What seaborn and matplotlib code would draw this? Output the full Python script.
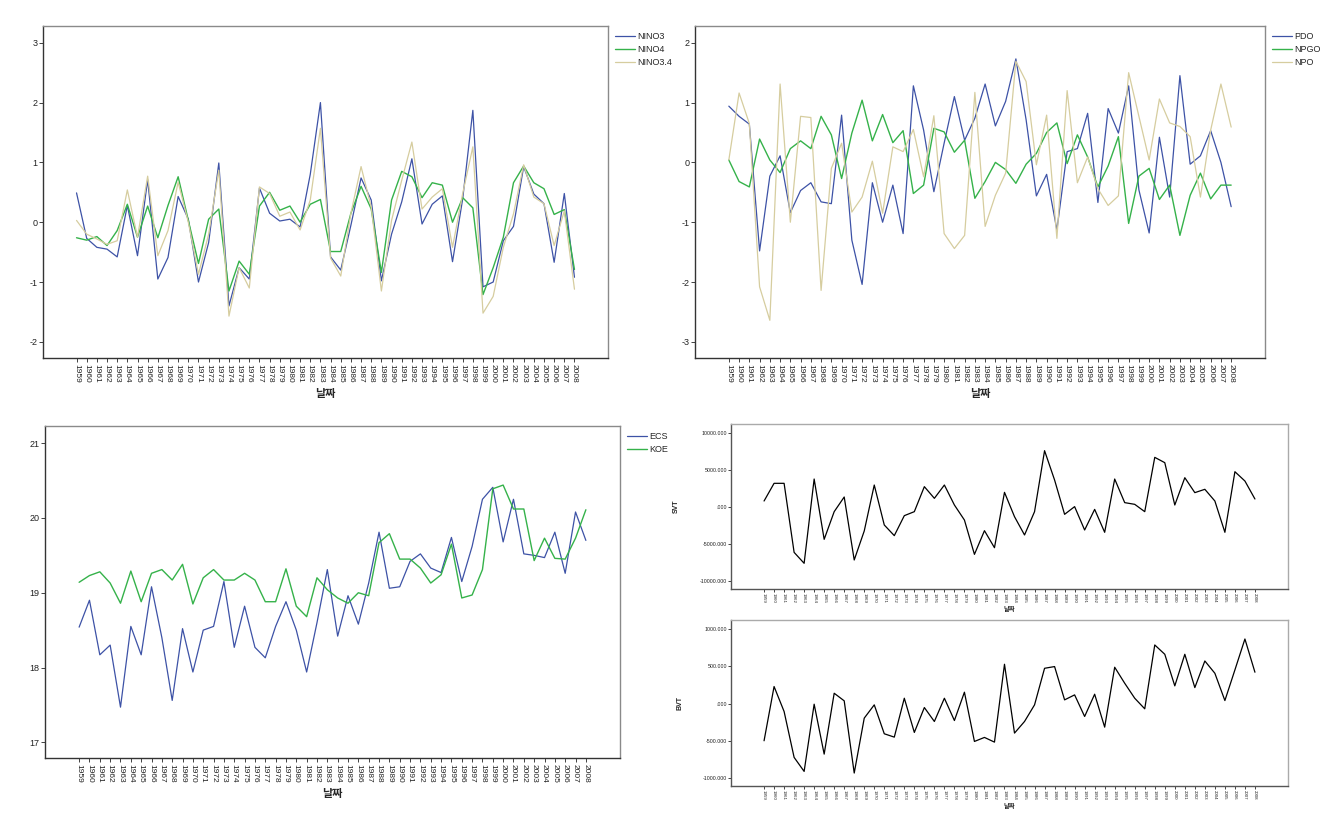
import numpy as np
import pandas as pd
import matplotlib
matplotlib.use("Agg")
import matplotlib.pyplot as plt
import seaborn as sns

sns.set_theme(style="white")
plt.rcParams['font.family'] = ['Liberation Sans', 'DejaVu Sans', 'Noto Sans CJK KR']

years = list(range(1959, 2009))
year_labels = [str(y) for y in years]

nino3 = [0.49, -0.27, -0.42, -0.45, -0.58, 0.28, -0.56, 0.71, -0.95, -0.59,
         0.43, 0.05, -1.0, -0.34, 0.99, -1.40, -0.76, -0.95, 0.57, 0.15,
         0.02, 0.05, -0.08, 0.8, 2.0, -0.58, -0.8, -0.05, 0.74, 0.37,
         -0.98, -0.2, 0.34, 1.06, -0.03, 0.3, 0.44, -0.66, 0.39, 1.87,
         -1.08, -1.0, -0.31, -0.07, 0.93, 0.47, 0.31, -0.67, 0.48, -0.92]
nino4 = [-0.26, -0.3, -0.24, -0.39, -0.14, 0.3, -0.25, 0.27, -0.26, 0.28,
         0.76, 0.03, -0.69, 0.05, 0.22, -1.15, -0.65, -0.87, 0.27, 0.5,
         0.2, 0.27, 0.0, 0.3, 0.38, -0.49, -0.49, 0.15, 0.6, 0.22,
         -0.84, 0.37, 0.85, 0.76, 0.41, 0.66, 0.62, 0.0, 0.41, 0.24,
         -1.21, -0.76, -0.25, 0.66, 0.94, 0.66, 0.56, 0.13, 0.21, -0.79]
nino34 = [0.03, -0.2, -0.28, -0.37, -0.31, 0.54, -0.25, 0.77, -0.56, -0.14,
          0.67, 0.0, -0.87, -0.2, 0.87, -1.57, -0.76, -1.1, 0.59, 0.48,
          0.1, 0.17, -0.13, 0.37, 1.57, -0.6, -0.9, 0.15, 0.93, 0.25,
          -1.15, 0.03, 0.7, 1.34, 0.22, 0.42, 0.56, -0.42, 0.48, 1.26,
          -1.52, -1.24, -0.42, 0.14, 0.96, 0.42, 0.31, -0.39, 0.19, -1.12]

pdo = [0.94, 0.77, 0.64, -1.48, -0.23, 0.11, -0.84, -0.47, -0.34, -0.66,
       -0.69, 0.79, -1.3, -2.04, -0.34, -1.0, -0.38, -1.19, 1.28, 0.54,
       -0.49, 0.32, 1.1, 0.37, 0.74, 1.31, 0.61, 1.02, 1.73, 0.71,
       -0.56, -0.2, -1.13, 0.18, 0.23, 0.82, -0.67, 0.9, 0.49, 1.28,
       -0.46, -1.18, 0.42, -0.58, 1.45, -0.03, 0.11, 0.53, 0.0, -0.74]
npgo = [0.04, -0.32, -0.41, 0.39, 0.04, -0.17, 0.23, 0.36, 0.23, 0.77,
        0.46, -0.27, 0.49, 1.04, 0.36, 0.8, 0.33, 0.53, -0.52, -0.38,
        0.57, 0.51, 0.17, 0.37, -0.6, -0.32, 0.0, -0.12, -0.35, -0.03,
        0.15, 0.5, 0.66, -0.02, 0.46, 0.09, -0.41, -0.06, 0.43, -1.02,
        -0.23, -0.1, -0.62, -0.38, -1.22, -0.55, -0.18, -0.61, -0.38, -0.38]
npo = [0.04, 1.16, 0.65, -2.08, -2.64, 1.31, -1.0, 0.77, 0.75, -2.14,
       -0.1, 0.32, -0.83, -0.58, 0.02, -0.85, 0.26, 0.18, 0.55, -0.24,
       0.78, -1.19, -1.44, -1.22, 1.17, -1.07, -0.55, -0.18, 1.69, 1.35,
       -0.04, 0.79, -1.27, 1.2, -0.34, 0.09, -0.44, -0.72, -0.56, 1.5,
       0.77, 0.04, 1.06, 0.66, 0.6, 0.43, -0.58, 0.54, 1.31, 0.59]

ecs = [18.54, 18.9, 18.17, 18.3, 17.47, 18.55, 18.17, 19.08, 18.4, 17.56,
       18.52, 17.94, 18.5, 18.55, 19.15, 18.27, 18.82, 18.27, 18.13, 18.55,
       18.88, 18.5, 17.94, 18.6, 19.31, 18.42, 18.96, 18.58, 19.13, 19.81,
       19.06, 19.08, 19.42, 19.52, 19.33, 19.27, 19.74, 19.15, 19.62, 20.25,
       20.41, 19.68, 20.25, 19.52, 19.5, 19.47, 19.81, 19.26, 20.08, 19.7]
koe = [19.14, 19.23, 19.28, 19.13, 18.86, 19.29, 18.88, 19.26, 19.31, 19.17,
       19.38, 18.85, 19.2, 19.31, 19.17, 19.17, 19.26, 19.17, 18.88, 18.88,
       19.32, 18.82, 18.68, 19.2, 19.04, 18.93, 18.86, 19.0, 18.96, 19.67,
       19.79, 19.45, 19.45, 19.33, 19.13, 19.24, 19.65, 18.93, 18.97, 19.31,
       20.39, 20.44, 20.12, 20.12, 19.43, 19.73, 19.46, 19.45, 19.73, 20.11]

svt = [810, 3200, 3200, -6130, -7610, 3780, -4370, -630, 1350, -7160,
       -3240, 2970, -2430, -3870, -1170, -630, 2750, 1170, 2970, 270,
       -1760, -6400, -3200, -5500, 1980, -1310, -3780, -630, 7610, 3650,
       -990, 50, -3110, -320, -3420, 3780, 590, 360, -630, 6710,
       5990, 270, 3960, 1940, 2390, 810, -3420, 4770, 3510, 1080]
bvt = [-500, 228, -107, -723, -911, -9, -679, 138, 36, -933,
       -196, -18, -406, -451, 71, -388, -54, -241, 71, -228,
       152, -509, -455, -518, 527, -397, -241, -18, 473, 496,
       49, 116, -174, 125, -317, 487, 272, 71, -71, 786,
       661, 237, 661, 214, 571, 406, 40, 451, 866, 420]

BLUE = '#3d52a6'
GREEN = '#35b24a'
TAN = '#d6cd9f'
KFONT = ['Noto Sans CJK KR', 'DejaVu Sans']

W, H = 1329, 819
fig = plt.figure(figsize=(W / 100, H / 100), dpi=100)
fig.patch.set_facecolor('white')


def rect(l, r, t, b):
    return [l / W, 1 - b / H, (r - l) / W, (b - t) / H]


def style_axes(ax, xfs, yfs):
    for s in ['top', 'right']:
        ax.spines[s].set_color('#8a8a8a')
        ax.spines[s].set_linewidth(1.0)
    for s in ['left', 'bottom']:
        ax.spines[s].set_color('#333333')
        ax.spines[s].set_linewidth(1.0)
    ax.set_xticks(years)
    ax.set_xticklabels(year_labels, rotation=270, fontsize=xfs)
    ax.tick_params(axis='x', length=3, width=0.6, pad=1, colors='#222222', bottom=True)
    ax.tick_params(axis='y', length=3, width=0.6, pad=1, labelsize=yfs, colors='#222222', left=True)
    ax.set_xlim(1959 - 3.3, 2008 + 3.3)
    ax.grid(False)


def multi(ax, series, names, colors, widths):
    df = pd.DataFrame({'year': years * len(series),
                       'value': np.concatenate(series),
                       'name': np.repeat(names, len(years))})
    sns.lineplot(data=df, x='year', y='value', hue='name', hue_order=names,
                 palette=dict(zip(names, colors)), ax=ax, legend=False,
                 estimator=None, linewidth=0.9)
    for line, w in zip(ax.get_lines(), widths):
        line.set_linewidth(w)
    handles = [plt.Line2D([], [], color=c, lw=w) for c, w in zip(colors, widths)]
    ax.legend(handles, names, loc='upper left', bbox_to_anchor=(1.002, 1.0),
              frameon=False, fontsize=6.5, handlelength=2.2, handletextpad=0.2,
              labelspacing=0.45, borderaxespad=0.3)


# Top-left
ax1 = fig.add_axes(rect(43, 608, 26, 358))
multi(ax1, [nino3, nino4, nino34], ['NINO3', 'NINO4', 'NINO3.4'], [BLUE, GREEN, TAN], [0.9, 1.0, 0.9])
style_axes(ax1, 6, 6.5)
ax1.set_ylim(-2.27, 3.28)
ax1.set_yticks([3, 2, 1, 0, -1, -2])
ax1.set_yticklabels(['3', '2', '1', '0', '-1', '-2'])
ax1.set_ylabel('')
ax1.set_xlabel('날짜', fontsize=8, fontweight='bold', family=KFONT, labelpad=3)

# Top-right
ax2 = fig.add_axes(rect(695, 1265, 26, 358))
multi(ax2, [pdo, npgo, npo], ['PDO', 'NPGO', 'NPO'], [BLUE, GREEN, TAN], [0.9, 1.0, 0.9])
style_axes(ax2, 6, 6.5)
ax2.set_ylim(-3.27, 2.28)
ax2.set_yticks([2, 1, 0, -1, -2, -3])
ax2.set_yticklabels(['2', '1', '0', '-1', '-2', '-3'])
ax2.set_ylabel('')
ax2.set_xlabel('날짜', fontsize=8, fontweight='bold', family=KFONT, labelpad=3)

# Bottom-left
ax3 = fig.add_axes(rect(45, 620, 426, 758))
multi(ax3, [ecs, koe], ['ECS', 'KOE'], [BLUE, GREEN], [0.9, 1.0])
style_axes(ax3, 6, 6.5)
ax3.set_ylim(16.79, 21.23)
ax3.set_yticks([21, 20, 19, 18, 17])
ax3.set_yticklabels(['21', '20', '19', '18', '17'])
ax3.set_ylabel('')
ax3.set_xlabel('날짜', fontsize=8, fontweight='bold', family=KFONT, labelpad=3)


def spss_fmt(v):
    s = f"{v:.3f}"
    if s in ("0.000", "-0.000"):
        s = ".000"
    return s


def single(ax, vals, ylab, ylim, ticks):
    df = pd.DataFrame({'year': years, 'value': vals})
    sns.lineplot(data=df, x='year', y='value', ax=ax, color='black', linewidth=0.9)
    style_axes(ax, 3.2, 3.8)
    for s in ['top', 'right']:
        ax.spines[s].set_color('#aaaaaa')
    for s in ['left', 'bottom']:
        ax.spines[s].set_color('#555555')
    ax.set_ylim(*ylim)
    ax.set_yticks(ticks)
    ax.set_yticklabels([spss_fmt(t) for t in ticks])
    ax.tick_params(axis='x', length=2)
    ax.tick_params(axis='y', length=2)
    ax.set_ylabel(ylab, fontsize=5, fontweight='bold', labelpad=14)
    ax.set_xlabel('날짜', fontsize=4.5, fontweight='bold', family=KFONT, labelpad=1)


ax4 = fig.add_axes(rect(731, 1288, 424, 589))
single(ax4, svt, 'SVT', (-11081, 11216), [10000, 5000, 0, -5000, -10000])

ax5 = fig.add_axes(rect(731, 1288, 620, 786))
single(ax5, bvt, 'BVT', (-1107, 1121), [1000, 500, 0, -500, -1000])

fig.savefig('out.png', dpi=100, facecolor='white')
